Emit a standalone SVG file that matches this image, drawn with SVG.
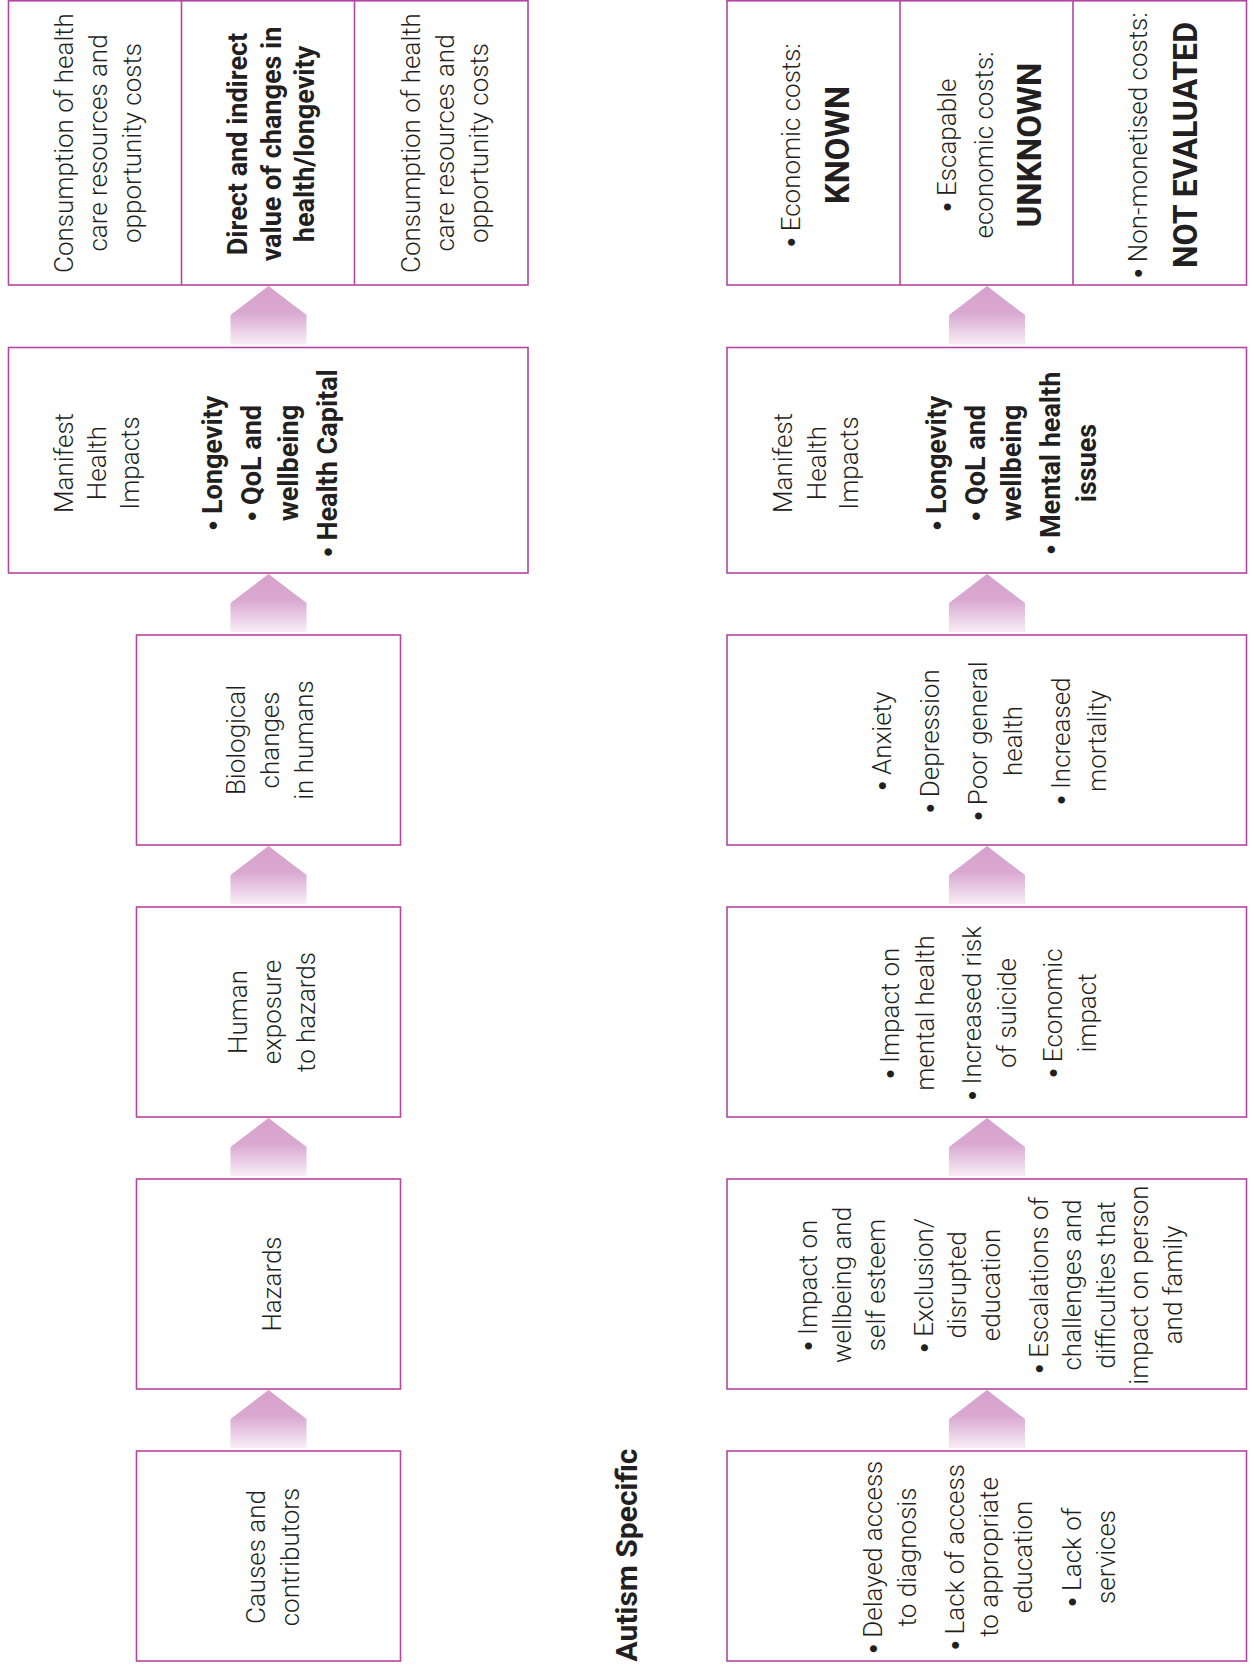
<svg xmlns="http://www.w3.org/2000/svg" width="1256" height="1670" viewBox="0 0 1256 1670">
<defs>
<linearGradient id="ag" x1="0" y1="0" x2="0" y2="1">
<stop offset="0" stop-color="#d6a1cd"/>
<stop offset="0.45" stop-color="#d9a8d1"/>
<stop offset="1" stop-color="#f8eef6"/>
</linearGradient>
<style>
.box{fill:#fff;stroke:#b3479f;stroke-width:1.6}
.div{stroke:#b3479f;stroke-width:1.6}
.arr{fill:url(#ag)}
.t{font-family:Roboto,"Liberation Sans",sans-serif;font-size:26px;font-weight:300;fill:#231f20;text-anchor:middle}
.b{font-weight:700;font-size:27px}
.c{font-weight:700;font-size:34px}
.h{font-weight:700;font-size:30px}
.bl{font-family:"Liberation Sans",sans-serif;font-weight:400}
</style>
</defs>
<rect width="1256" height="1670" fill="#fff"/>

<g id="connectors">
<polygon class="arr" points="268.5,286 306.5,315 306.5,344.5 230.5,344.5 230.5,315"/>
<polygon class="arr" points="268.5,574 306.5,603 306.5,632 230.5,632 230.5,603"/>
<polygon class="arr" points="268.5,846 306.5,875 306.5,904 230.5,904 230.5,875"/>
<polygon class="arr" points="268.5,1118 306.5,1147 306.5,1176 230.5,1176 230.5,1147"/>
<polygon class="arr" points="268.5,1390 306.5,1419 306.5,1448 230.5,1448 230.5,1419"/>
<polygon class="arr" points="987,286 1025,315 1025,344.5 949,344.5 949,315"/>
<polygon class="arr" points="987,574 1025,603 1025,632 949,632 949,603"/>
<polygon class="arr" points="987,846 1025,875 1025,904 949,904 949,875"/>
<polygon class="arr" points="987,1118 1025,1147 1025,1176 949,1176 949,1147"/>
<polygon class="arr" points="987,1390 1025,1419 1025,1448 949,1448 949,1419"/>
</g>

<g id="l-costs">
<rect class="box" x="8.5" y="0.8" width="519.5" height="284.2"/>
<line class="div" x1="181.5" y1="0.8" x2="181.5" y2="285"/>
<line class="div" x1="354.5" y1="0.8" x2="354.5" y2="285"/>
<text class="t" transform="rotate(-90)"><tspan x="-143" y="73">Consumption of health</tspan><tspan x="-143" y="107">care resources and</tspan><tspan x="-143" y="141">opportunity costs</tspan></text>
<text class="t b" transform="rotate(-90)"><tspan x="-144" y="247">Direct and indirect</tspan><tspan x="-144" y="281">value of changes in</tspan><tspan x="-144" y="314">health/longevity</tspan></text>
<text class="t" transform="rotate(-90)"><tspan x="-143" y="420">Consumption of health</tspan><tspan x="-143" y="454">care resources and</tspan><tspan x="-143" y="488">opportunity costs</tspan></text>
</g>

<g id="l-manifest">
<rect class="box" x="8.5" y="347.5" width="519.5" height="225.5"/>
<text class="t" transform="rotate(-90)"><tspan x="-463" y="73">Manifest</tspan><tspan x="-463" y="106">Health</tspan><tspan x="-463" y="139">Impacts</tspan></text>
<text class="t b" transform="rotate(-90)"><tspan x="-463" y="222"><tspan class="bl">•</tspan> Longevity</tspan><tspan x="-463" y="261"><tspan class="bl">•</tspan> QoL and</tspan><tspan x="-463" y="298">wellbeing</tspan><tspan x="-463" y="337"><tspan class="bl">•</tspan> Health Capital</tspan></text>
</g>

<g id="l-biological">
<rect class="box" x="136.5" y="635" width="264" height="210"/>
<text class="t" transform="rotate(-90)"><tspan x="-740" y="245">Biological</tspan><tspan x="-740" y="279">changes</tspan><tspan x="-740" y="313">in humans</tspan></text>
</g>

<g id="l-exposure">
<rect class="box" x="136.5" y="907" width="264" height="210"/>
<text class="t" transform="rotate(-90)"><tspan x="-1012" y="247">Human</tspan><tspan x="-1012" y="281">exposure</tspan><tspan x="-1012" y="315">to hazards</tspan></text>
</g>

<g id="l-hazards">
<rect class="box" x="136.5" y="1179" width="264" height="210"/>
<text class="t" transform="rotate(-90)"><tspan x="-1284" y="281">Hazards</tspan></text>
</g>

<g id="l-causes">
<rect class="box" x="136.5" y="1451" width="264" height="210"/>
<text class="t" transform="rotate(-90)"><tspan x="-1557" y="265">Causes and</tspan><tspan x="-1557" y="299">contributors</tspan></text>
</g>

<g id="autism-label">
<text class="t h" transform="rotate(-90)"><tspan x="-1555" y="637">Autism Specific</tspan></text>
</g>

<g id="r-costs">
<rect class="box" x="727" y="0.8" width="519.5" height="284.2"/>
<line class="div" x1="900" y1="0.8" x2="900" y2="285"/>
<line class="div" x1="1073" y1="0.8" x2="1073" y2="285"/>
<text class="t" transform="rotate(-90)"><tspan x="-145" y="800"><tspan class="bl">•</tspan> Economic costs:</tspan></text>
<text class="t c" transform="rotate(-90)"><tspan x="-145" y="849" textLength="118" lengthAdjust="spacingAndGlyphs">KNOWN</tspan></text>
<text class="t" transform="rotate(-90)"><tspan x="-145" y="956"><tspan class="bl">•</tspan> Escapable</tspan><tspan x="-145" y="993">economic costs:</tspan></text>
<text class="t c" transform="rotate(-90)"><tspan x="-145" y="1041" textLength="165" lengthAdjust="spacingAndGlyphs">UNKNOWN</tspan></text>
<text class="t" transform="rotate(-90)"><tspan x="-145" y="1147"><tspan class="bl">•</tspan> Non-monetised costs:</tspan></text>
<text class="t c" transform="rotate(-90)"><tspan x="-145" y="1197" textLength="246" lengthAdjust="spacingAndGlyphs">NOT EVALUATED</tspan></text>
</g>

<g id="r-manifest">
<rect class="box" x="727" y="347.5" width="519.5" height="225.5"/>
<text class="t" transform="rotate(-90)"><tspan x="-463" y="792">Manifest</tspan><tspan x="-463" y="826">Health</tspan><tspan x="-463" y="858">Impacts</tspan></text>
<text class="t b" transform="rotate(-90)"><tspan x="-463" y="946"><tspan class="bl">•</tspan> Longevity</tspan><tspan x="-463" y="985"><tspan class="bl">•</tspan> QoL and</tspan><tspan x="-463" y="1021">wellbeing</tspan><tspan x="-463" y="1060"><tspan class="bl">•</tspan> Mental health</tspan><tspan x="-463" y="1096">issues</tspan></text>
</g>

<g id="r-symptoms">
<rect class="box" x="727" y="635" width="519.5" height="210"/>
<text class="t" transform="rotate(-90)"><tspan x="-741" y="891"><tspan class="bl">•</tspan> Anxiety</tspan><tspan x="-741" y="939"><tspan class="bl">•</tspan> Depression</tspan><tspan x="-741" y="987"><tspan class="bl">•</tspan> Poor general</tspan><tspan x="-741" y="1022">health</tspan><tspan x="-741" y="1070"><tspan class="bl">•</tspan> Increased</tspan><tspan x="-741" y="1106">mortality</tspan></text>
</g>

<g id="r-impacts">
<rect class="box" x="727" y="907" width="519.5" height="210"/>
<text class="t" transform="rotate(-90)"><tspan x="-1013" y="899"><tspan class="bl">•</tspan> Impact on</tspan><tspan x="-1013" y="934">mental health</tspan><tspan x="-1013" y="981"><tspan class="bl">•</tspan> Increased risk</tspan><tspan x="-1013" y="1016">of suicide</tspan><tspan x="-1013" y="1062"><tspan class="bl">•</tspan> Economic</tspan><tspan x="-1013" y="1096">impact</tspan></text>
</g>

<g id="r-wellbeing">
<rect class="box" x="727" y="1179" width="519.5" height="210"/>
<text class="t" transform="rotate(-90)"><tspan x="-1285" y="817"><tspan class="bl">•</tspan> Impact on</tspan><tspan x="-1285" y="851">wellbeing and</tspan><tspan x="-1285" y="885">self esteem</tspan><tspan x="-1285" y="933"><tspan class="bl">•</tspan> Exclusion/</tspan><tspan x="-1285" y="966">disrupted</tspan><tspan x="-1285" y="1000">education</tspan><tspan x="-1285" y="1048"><tspan class="bl">•</tspan> Escalations of</tspan><tspan x="-1285" y="1081">challenges and</tspan><tspan x="-1285" y="1115">difficulties that</tspan><tspan x="-1285" y="1148">impact on person</tspan><tspan x="-1285" y="1182">and family</tspan></text>
</g>

<g id="r-causes">
<rect class="box" x="727" y="1451" width="519.5" height="210"/>
<text class="t" transform="rotate(-90)"><tspan x="-1557" y="882"><tspan class="bl">•</tspan> Delayed access</tspan><tspan x="-1557" y="916">to diagnosis</tspan><tspan x="-1557" y="964"><tspan class="bl">•</tspan> Lack of access</tspan><tspan x="-1557" y="998">to appropriate</tspan><tspan x="-1557" y="1032">education</tspan><tspan x="-1557" y="1081"><tspan class="bl">•</tspan> Lack of</tspan><tspan x="-1557" y="1115">services</tspan></text>
</g>
</svg>
